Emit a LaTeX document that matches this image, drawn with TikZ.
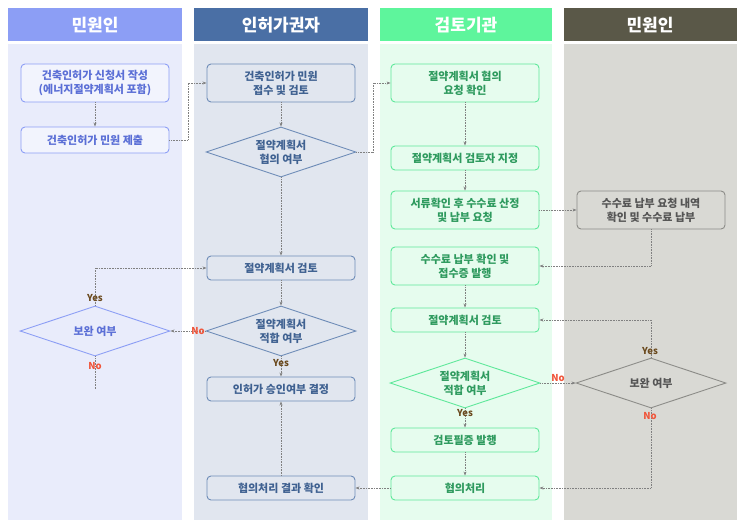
\documentclass[tikz,border=0pt]{standalone}
\usepackage{fontspec}
\setmainfont{Noto Sans CJK KR}
\usetikzlibrary{shapes.geometric,arrows.meta}
\definecolor{hA}{HTML}{8C9EF5}\definecolor{bA}{HTML}{E9ECFB}\definecolor{tA}{HTML}{5B6FD6}
\definecolor{hB}{HTML}{4A6FA5}\definecolor{bB}{HTML}{E1E6EF}\definecolor{tB}{HTML}{3F6191}
\definecolor{hC}{HTML}{5EF59C}\definecolor{bC}{HTML}{E6FCEE}\definecolor{tC}{HTML}{2E9A5E}\definecolor{eC}{HTML}{5EE89A}
\definecolor{hD}{HTML}{5A5848}\definecolor{bD}{HTML}{D9D9D4}\definecolor{tD}{HTML}{555555}\definecolor{eD}{HTML}{8C8C88}
\definecolor{yesc}{HTML}{6B4A1E}\definecolor{noc}{HTML}{F0553A}
\tikzset{
 hdr/.style={font=\fontsize{17}{19}\selectfont\bfseries,text=white},
 bx/.style={draw,rounded corners=4pt,line width=0.9pt,minimum width=148pt,align=center,font=\fontsize{11}{14}\selectfont\bfseries,inner sep=2pt},
 dm/.style={draw,diamond,aspect=2.9,inner sep=0pt,minimum width=150pt,minimum height=50pt,line width=0.9pt,align=center,font=\fontsize{11}{14}\selectfont\bfseries},
 la/.style={text=tA,fill=bA!60!white,draw=hA},
 lb/.style={text=tB,fill=bB,draw=hB!80},
 lc/.style={text=tC,fill=bC,draw=eC},
 ld/.style={text=tD,fill=bD,draw=eD},
 cn/.style={draw=gray,densely dotted,line width=0.6pt,-{Stealth[length=4pt,width=3pt]}},
 cnn/.style={draw=gray,densely dotted,line width=0.6pt},
 yl/.style={font=\fontsize{9.5}{10}\selectfont\bfseries,text=yesc},
 nl/.style={font=\fontsize{9.5}{10}\selectfont\bfseries,text=noc},
}
\begin{document}
\begin{tikzpicture}[x=1pt,y=-1pt]
\useasboundingbox[fill=white] (0,0) rectangle (743,525);
\fill[hA] (8,8) rectangle (182,41); \fill[bA] (8,44) rectangle (182,520);
\fill[hB] (194,8) rectangle (368,41); \fill[bB] (194,44) rectangle (368,520);
\fill[hC] (380,8) rectangle (552,41); \fill[bC] (380,44) rectangle (552,520);
\fill[hD] (564,8) rectangle (737,41); \fill[bD] (564,44) rectangle (737,520);
\node[hdr] (h1) at (95,25) {민원인};
\node[hdr] (h2) at (281,25) {인허가권자};
\node[hdr] (h3) at (466,25) {검토기관};
\node[hdr] (h4) at (650,25) {민원인};
% lane 1
\node[bx,la,minimum height=38pt] (A) at (95,83) {건축인허가 신청서 작성\\(에너지절약계획서 포함)};
\node[bx,la,minimum height=26pt] (B) at (95,140) {건축인허가 민원 제출};
\node[dm,text=tA,fill=bA,draw=hA] (S) at (95,331) {보완 여부};
% lane 2
\node[bx,lb,minimum height=38pt] (C) at (281,83) {건축인허가 민원\\접수 및 검토};
\node[dm,text=tB,fill=bB,draw=hB!80] (D) at (281,152) {절약계획서\\협의 여부};
\node[bx,lb,minimum height=24pt] (E) at (281,268) {절약계획서 검토};
\node[dm,text=tB,fill=bB,draw=hB!80] (F) at (281,331) {절약계획서\\적합 여부};
\node[bx,lb,minimum height=24pt] (G) at (281,389) {인허가 승인여부 결정};
\node[bx,lb,minimum height=24pt] (H) at (281,488) {협의처리 결과 확인};
% lane 3
\node[bx,lc,minimum height=38pt] (I) at (465,83) {절약계획서 협의\\요청 확인};
\node[bx,lc,minimum height=24pt] (J) at (465,158) {절약계획서 검토자 지정};
\node[bx,lc,minimum height=38pt] (K) at (465,210) {서류확인 후 수수료 산정\\및 납부 요청};
\node[bx,lc,minimum height=38pt] (L) at (465,266) {수수료 납부 확인 및\\접수증 발행};
\node[bx,lc,minimum height=24pt] (M) at (465,320) {절약계획서 검토};
\node[dm,text=tC,fill=bC,draw=eC] (N) at (465,383) {절약계획서\\적합 여부};
\node[bx,lc,minimum height=24pt] (O) at (465,440) {검토필증 발행};
\node[bx,lc,minimum height=24pt] (P) at (465,488) {협의처리};
% lane 4
\node[bx,ld,minimum height=38pt] (Q) at (651,210) {수수료 납부 요청 내역\\확인 및 수수료 납부};
\node[dm,text=tD,fill=bD,draw=eD] (R) at (651,383) {보완 여부};
\coordinate (Send) at (95,390);
% connectors
\draw[cn] (A) -- (B);
\draw[cn] (B.east) -| (188,83) -- (C.west);
\draw[cn] (C) -- (D);
\draw[cn] (D.east) -| (373,83) -- (I.west);
\draw[cn] (D) -- (E);
\draw[cn] (E) -- (F);
\draw[cn] (F.west) -- (S.east);
\draw[cn] (F) -- (G);
\draw[cn] (H) -- (G);
\draw[cn] (P) -- (H);
\draw[cn] (S.north) |- (E.west);
\draw[cnn] (S.south) -- (Send);
\draw[cn] (I) -- (J);
\draw[cn] (J) -- (K);
\draw[cn] (K) -- (Q);
\draw[cn] (Q.south) |- (L.east);
\draw[cn] (L) -- (M);
\draw[cn] (M) -- (N);
\draw[cn] (N.east) -- (R.west);
\draw[cn] (R.north) |- (M.east);
\draw[cn] (R.south) |- (P.east);
\draw[cn] (N) -- (O);
\draw[cn] (O) -- (P);
% labels
\node[yl] (y1) at (95,298) {Yes};
\node[nl] (n1) at (95,366) {No};
\node[nl] (n2) at (198,331) {No};
\node[yl] (y2) at (281,363) {Yes};
\node[yl] (y3) at (465,413) {Yes};
\node[nl] (n3) at (558,378) {No};
\node[yl] (y4) at (650,351) {Yes};
\node[nl] (n4) at (650,416) {No};
\end{tikzpicture}
\end{document}
